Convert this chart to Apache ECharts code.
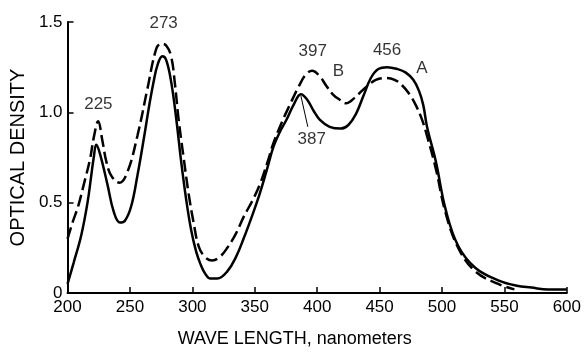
<!DOCTYPE html>
<html><head><meta charset="utf-8">
<script src="https://cdn.jsdelivr.net/npm/echarts@6/dist/echarts.min.js"></script>
<style>html,body{margin:0;padding:0;background:#fff}#c{width:584px;height:353px}</style>
</head><body><div id="c"></div>
<script>
// Curve A (solid)
const wlA = [200, 205, 211, 216, 219, 221, 223, 226, 232, 237, 242, 246, 251, 256, 261.5, 265, 269, 272, 276, 279, 283, 287, 291, 295, 299, 303, 306.5, 310, 314.5, 320, 328, 335, 341, 348, 354, 360, 365, 370, 375.5, 381, 387, 392, 397, 402, 410, 419, 425, 431, 437, 443, 449, 456, 464, 471, 477, 481.5, 485, 488, 495, 503, 513, 526.6, 545, 560, 571.6, 585, 600];
const odA = [0.05, 0.17, 0.32, 0.50, 0.65, 0.75, 0.82, 0.77, 0.60, 0.45, 0.39, 0.40, 0.48, 0.65, 0.87, 1.02, 1.17, 1.26, 1.31, 1.29, 1.17, 0.97, 0.73, 0.52, 0.35, 0.23, 0.16, 0.11, 0.08, 0.08, 0.12, 0.20, 0.30, 0.43, 0.55, 0.69, 0.81, 0.89, 0.96, 1.04, 1.10, 1.07, 1.01, 0.96, 0.92, 0.91, 0.93, 0.99, 1.09, 1.19, 1.24, 1.25, 1.24, 1.22, 1.18, 1.12, 1.04, 0.92, 0.73, 0.46, 0.26, 0.14, 0.07, 0.04, 0.03, 0.02, 0.02];
// Curve B (dashed)
const wlB = [200, 204, 208.5, 213, 218, 221, 224.5, 228, 231, 235, 241.6, 248, 256, 264, 271, 275, 279, 283, 286, 289, 293, 297, 301, 305, 310, 316, 322, 328, 335, 341, 348, 354, 360, 365, 372, 378, 385, 391, 396, 402, 407, 412.5, 418, 423, 430, 436, 441, 447, 455, 462, 468, 474, 479, 484, 488, 495, 503, 513, 526.6, 545, 558];
const odB = [0.30, 0.39, 0.48, 0.60, 0.74, 0.86, 0.95, 0.84, 0.73, 0.65, 0.61, 0.67, 0.87, 1.13, 1.35, 1.38, 1.37, 1.31, 1.16, 0.96, 0.75, 0.55, 0.39, 0.26, 0.20, 0.18, 0.20, 0.25, 0.33, 0.42, 0.51, 0.60, 0.72, 0.83, 0.95, 1.04, 1.14, 1.21, 1.23, 1.20, 1.15, 1.10, 1.07, 1.05, 1.08, 1.12, 1.15, 1.18, 1.19, 1.18, 1.15, 1.10, 1.04, 0.96, 0.87, 0.69, 0.44, 0.25, 0.12, 0.05, 0.02];
// Axis ticks
const xTicks = [200, 250, 300, 350, 400, 450, 500, 550, 600];
const yTicks = [0, 0.5, 1.0, 1.5];
// Annotations
const noteText = ['225', '273', '397', 'B', '456', 'A', '387'];
const noteX = [224.7, 277, 396.4, 417, 456, 484, 395.6];
const noteY = [1.044, 1.495, 1.34, 1.229, 1.346, 1.245, 0.851];
const leaderX = [387, 392.5];
const leaderY = [1.09, 0.92];

const FONT = '"Liberation Sans", Arial, Helvetica, sans-serif';
const chart = echarts.init(document.getElementById('c'), null, {renderer: 'canvas'});
const zipPts = (xs, ys) => xs.map((x, i) => [x, ys[i]]);

chart.setOption({
  animation: false,
  backgroundColor: '#fff',
  grid: {left: 66, right: 15, top: 22, bottom: 50, containLabel: false},
  xAxis: {
    type: 'value', min: xTicks[0], max: xTicks[xTicks.length - 1], interval: xTicks[1] - xTicks[0],
    name: 'WAVE LENGTH, nanometers', nameLocation: 'middle', nameGap: 37,
    nameTextStyle: {fontFamily: FONT, fontSize: 18, color: '#000', padding: [0, 45, 0, 0]},
    axisLine: {lineStyle: {color: '#000', width: 2}},
    axisTick: {inside: true, length: 6, lineStyle: {color: '#000', width: 1.5}},
    axisLabel: {fontFamily: FONT, fontSize: 17, color: '#000', margin: 6},
    splitLine: {show: false}
  },
  yAxis: {
    type: 'value', min: yTicks[0], max: yTicks[yTicks.length - 1], interval: yTicks[1] - yTicks[0],
    name: 'OPTICAL DENSITY', nameLocation: 'middle', nameGap: 32, nameRotate: 90,
    nameTextStyle: {fontFamily: FONT, fontSize: 20, color: '#000'},
    axisLine: {show: true, lineStyle: {color: '#000', width: 2}},
    axisTick: {show: true, inside: true, length: 6, lineStyle: {color: '#000', width: 1.5}},
    axisLabel: {fontFamily: FONT, fontSize: 17, color: '#000', margin: 5,
      formatter: v => v === 0 ? '0' : v.toFixed(1)},
    splitLine: {show: false}
  },
  series: [
    {type: 'line', data: zipPts(wlA, odA), smooth: 0.4, symbol: 'none',
      lineStyle: {color: '#000', width: 2.5}},
    {type: 'line', data: zipPts(wlB, odB), smooth: 0.4, symbol: 'none',
      lineStyle: {color: '#000', width: 2.5, type: [12, 5]}},
    {type: 'line', data: zipPts(leaderX, leaderY), symbol: 'none',
      lineStyle: {color: '#000', width: 1}},
    {type: 'scatter', symbolSize: 1, itemStyle: {color: 'rgba(0,0,0,0)'},
      data: noteText.map((t, i) => ({name: t, value: [noteX[i], noteY[i]]})),
      label: {show: true, position: 'inside', formatter: p => p.name,
        fontFamily: FONT, fontSize: 17, color: '#000'}}
  ]
});
</script>
</body></html>
